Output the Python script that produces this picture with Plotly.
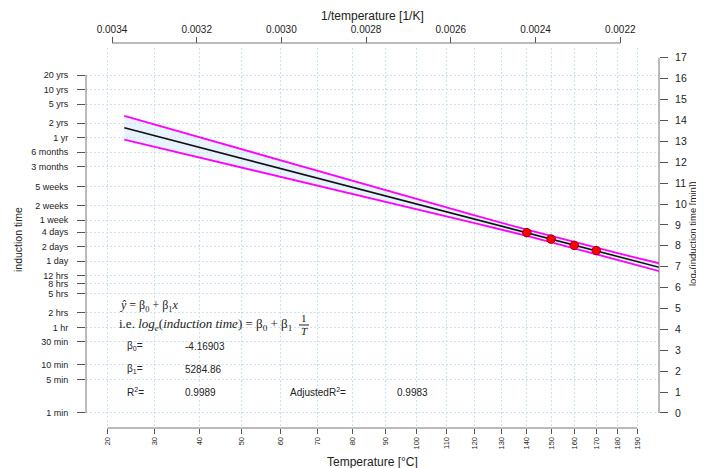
import numpy as np
import plotly.graph_objects as go

# ---------------- data ----------------
beta0 = -4.16903
beta1 = 5284.86
r2 = 0.9989
adj_r2 = 0.9983

point_temp_c = [140, 150, 160, 170]
point_ln_time = [8.63, 8.32, 8.02, 7.77]

band_temp_c = [23.5, 40, 60, 80, 100, 120, 140, 155, 170, 185, 205]
band_upper_ln = [14.22, 13.19, 12.08, 11.10, 10.23, 9.45, 8.77, 8.32, 7.91, 7.53, 7.08]
band_lower_ln = [13.08, 12.23, 11.31, 10.50, 9.76, 9.09, 8.47, 8.03, 7.61, 7.20, 6.69]

temp_ticks_c = [20, 30, 40, 50, 60, 70, 80, 90, 100, 110, 120, 130, 140, 150, 160, 170, 180, 190]
inv_temp_ticks = [0.0034, 0.0032, 0.0030, 0.0028, 0.0026, 0.0024, 0.0022]
ln_ticks = list(range(0, 18))

time_labels = ["20 yrs", "10 yrs", "5 yrs", "2 yrs", "1 yr", "6 months", "3 months",
               "5 weeks", "2 weeks", "1 week", "4 days", "2 days", "1 day", "12 hrs",
               "8 hrs", "5 hrs", "2 hrs", "1 hr", "30 min", "10 min", "5 min", "1 min"]
time_minutes = [10512000, 5256000, 2628000, 1051200, 525600, 262800, 131400,
                50400, 20160, 10080, 5760, 2880, 1440, 720,
                480, 300, 120, 60, 30, 10, 5, 1]

# ---------------- geometry ----------------
WIN_W, WIN_H = 704, 468
OFF = 8                      # page body margin
W, H = WIN_W - OFF, WIN_H - OFF
PLOT_L, PLOT_R, PLOT_T, PLOT_B = 86, 659, 48, 428   # plot area in window pixels
TOP_AXIS = 43
ML = PLOT_L - OFF
MR = WIN_W - PLOT_R
MT = TOP_AXIS - OFF
MB = WIN_H - PLOT_B
PW = PLOT_R - PLOT_L
PH = PLOT_B - TOP_AXIS
DOM_TOP = (PLOT_B - PLOT_T) / PH
XR = [0.0034614, 0.0021084]
YR = [-0.718, 17.464]


def k(tc):
    return 1.0 / (np.asarray(tc, dtype=float) + 273.15)


def px(xpix):
    return (xpix - PLOT_L) / PW


def py(ypix):
    return (PLOT_B - ypix) / PH


def paper_x(u):
    return (u - XR[0]) / (XR[1] - XR[0])


def paper_y(v):
    return (v - YR[0]) / (YR[1] - YR[0]) * DOM_TOP


band_u = k(band_temp_c)
fit_ln = beta0 + beta1 * band_u

fig = go.Figure()
fig.add_trace(go.Scatter(x=band_u, y=band_lower_ln, mode="lines",
                         line=dict(color="#FF00FF", width=1.8), showlegend=False,
                         hoverinfo="skip"))
fig.add_trace(go.Scatter(x=band_u, y=band_upper_ln, mode="lines",
                         line=dict(color="#FF00FF", width=1.8), fill="tonexty",
                         fillcolor="rgba(205,228,250,0.45)", showlegend=False,
                         hoverinfo="skip"))
fig.add_trace(go.Scatter(x=band_u, y=fit_ln, mode="lines",
                         line=dict(color="#111111", width=1.6), showlegend=False))
fig.add_trace(go.Scatter(x=k(point_temp_c), y=point_ln_time, mode="markers",
                         marker=dict(color="#FF0000", size=8.5,
                                     line=dict(color="#8B0000", width=1)),
                         showlegend=False))
# invisible trace so secondary axes exist
fig.add_trace(go.Scatter(x=[inv_temp_ticks[0]], y=[ln_ticks[0]], xaxis="x2", yaxis="y2",
                         mode="markers", marker=dict(opacity=0), showlegend=False,
                         hoverinfo="skip"))

grid = dict(showgrid=True, gridcolor="#C6E3EE", griddash="2px,2px", gridwidth=1)
tickc = "#555555"
font_main = "Liberation Sans, Arial, sans-serif"

fig.update_layout(
    width=W, height=H,
    margin=dict(l=ML, r=MR, t=MT, b=MB, autoexpand=False),
    paper_bgcolor="white", plot_bgcolor="white",
    font=dict(family=font_main, color="#222222"),
    xaxis=dict(range=XR, tickmode="array", tickvals=list(k(temp_ticks_c)),
               ticktext=[str(t) for t in temp_ticks_c], tickangle=-90,
               ticks="outside", ticklen=5, tickcolor=tickc, showline=False,
               zeroline=False, tickfont=dict(size=7.5), automargin=False, **grid),
    xaxis2=dict(range=XR, overlaying="x", side="top", anchor="free", position=1,
                tickmode="array", tickvals=inv_temp_ticks,
                ticktext=[f"{v:.4f}" for v in inv_temp_ticks], tickangle=0,
                ticks="outside", ticklen=6, tickcolor=tickc, showline=False,
                showgrid=False, zeroline=False, tickfont=dict(size=10), automargin=False),
    yaxis=dict(range=YR, domain=[0, DOM_TOP], tickmode="array",
               tickvals=list(np.log(time_minutes)), ticktext=time_labels,
               ticks="outside", ticklen=8, tickcolor=tickc, showline=False,
               zeroline=False, tickfont=dict(size=9), ticklabelstandoff=7,
               automargin=False, **grid),
    yaxis2=dict(range=YR, overlaying="y", side="right", anchor="x", tickmode="array",
                tickvals=ln_ticks, ticktext=[str(v) for v in ln_ticks],
                ticks="outside", ticklen=8, tickcolor=tickc, showline=False,
                showgrid=False, zeroline=False, tickfont=dict(size=10.5),
                ticklabelstandoff=5, automargin=False),
)

axis_line = dict(color="#777777", width=1)
shapes = [
    dict(type="line", xref="paper", yref="paper", x0=paper_x(k(temp_ticks_c[0])),
         x1=paper_x(k(temp_ticks_c[-1])), y0=0, y1=0, line=axis_line),
    dict(type="line", xref="paper", yref="paper", x0=paper_x(inv_temp_ticks[0]),
         x1=paper_x(inv_temp_ticks[-1]), y0=1, y1=1, line=axis_line),
    dict(type="line", xref="paper", yref="paper", x0=0, x1=0,
         y0=paper_y(np.log(time_minutes[-1])), y1=paper_y(np.log(time_minutes[0])),
         line=axis_line),
    dict(type="line", xref="paper", yref="paper", x0=1, x1=1,
         y0=paper_y(ln_ticks[0]), y1=paper_y(ln_ticks[-1]), line=axis_line),
    # fraction bar
    dict(type="line", xref="paper", yref="paper", x0=px(299), x1=px(309),
         y0=py(325), y1=py(325), line=dict(color="#222222", width=1)),
]
fig.update_layout(shapes=shapes)

serif = "Liberation Serif, DejaVu Serif, serif"
ann = []


def add(text, x, y, size=10, family=font_main, xanchor="left", angle=0, yanchor="middle"):
    ann.append(dict(text=text, x=px(x), y=py(y), xref="paper", yref="paper",
                    showarrow=False, xanchor=xanchor, yanchor=yanchor,
                    textangle=angle, font=dict(size=size, family=family, color="#222222")))


add("1/temperature [1/K]", 372, 16, size=12, xanchor="center")
add("Temperature [°C]", 372, 462, size=12, xanchor="center")
add("induction time", 18, 240, size=10.5, xanchor="center", angle=-90)
add("log<sub>e</sub>(induction time [min])", 693, 234, size=9.5, xanchor="center", angle=-90)

add("<i>ŷ</i> = β<sub>0</sub> + β<sub>1</sub><i>x</i>", 118, 306, size=12, family=serif)
add("i.e. <i>log<sub>e</sub></i>(<i>induction time</i>) = β<sub>0</sub> + β<sub>1</sub>",
    117, 324, size=13, family=serif)
add("1", 304, 318, size=11, family=serif, xanchor="center")
add("<i>T</i>", 304, 331, size=11, family=serif, xanchor="center")

add("β<sub>0</sub>=", 125, 346)
add(f"{beta0:.5f}", 183, 346)
add("β<sub>1</sub>=", 125, 369)
add(f"{beta1:.2f}", 183, 369)
add("R<sup>2</sup>=", 125, 392)
add(f"{r2:.4f}", 183, 392)
add("AdjustedR<sup>2</sup>=", 288, 392)
add(f"{adj_r2:.4f}", 395, 392)

fig.update_layout(annotations=ann)
fig.write_html("out.html")
